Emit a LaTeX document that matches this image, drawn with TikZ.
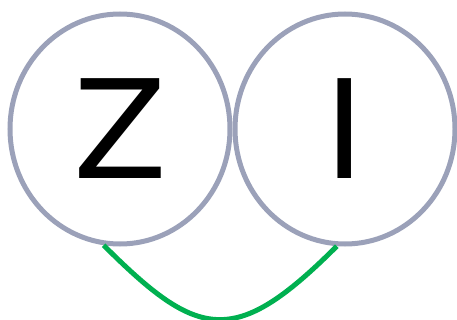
\documentclass[tikz,border=0pt]{standalone}
\usepackage{fontspec}
\setmainfont{DejaVu Sans}
\usetikzlibrary{shapes.geometric}
\definecolor{ringgray}{HTML}{9BA1B9}
\definecolor{linkgreen}{HTML}{00B050}
\tikzset{
  ring/.style={ellipse, draw=ringgray, line width=5pt, minimum width=220pt, minimum height=230pt, inner sep=0pt, font=\fontsize{137}{137}\selectfont},
  link/.style={draw=linkgreen, line width=5pt}
}
\begin{document}
\begin{tikzpicture}[x=1pt,y=-1pt]
\useasboundingbox (0,0) rectangle (457,320);
\node[ring] (z) at (120,129) {Z};
\node[ring] (i) at (345,129) {I};
\draw[link] (z.262) .. controls +(95,95) and +(-102,102) .. (i.266);
\end{tikzpicture}
\end{document}
